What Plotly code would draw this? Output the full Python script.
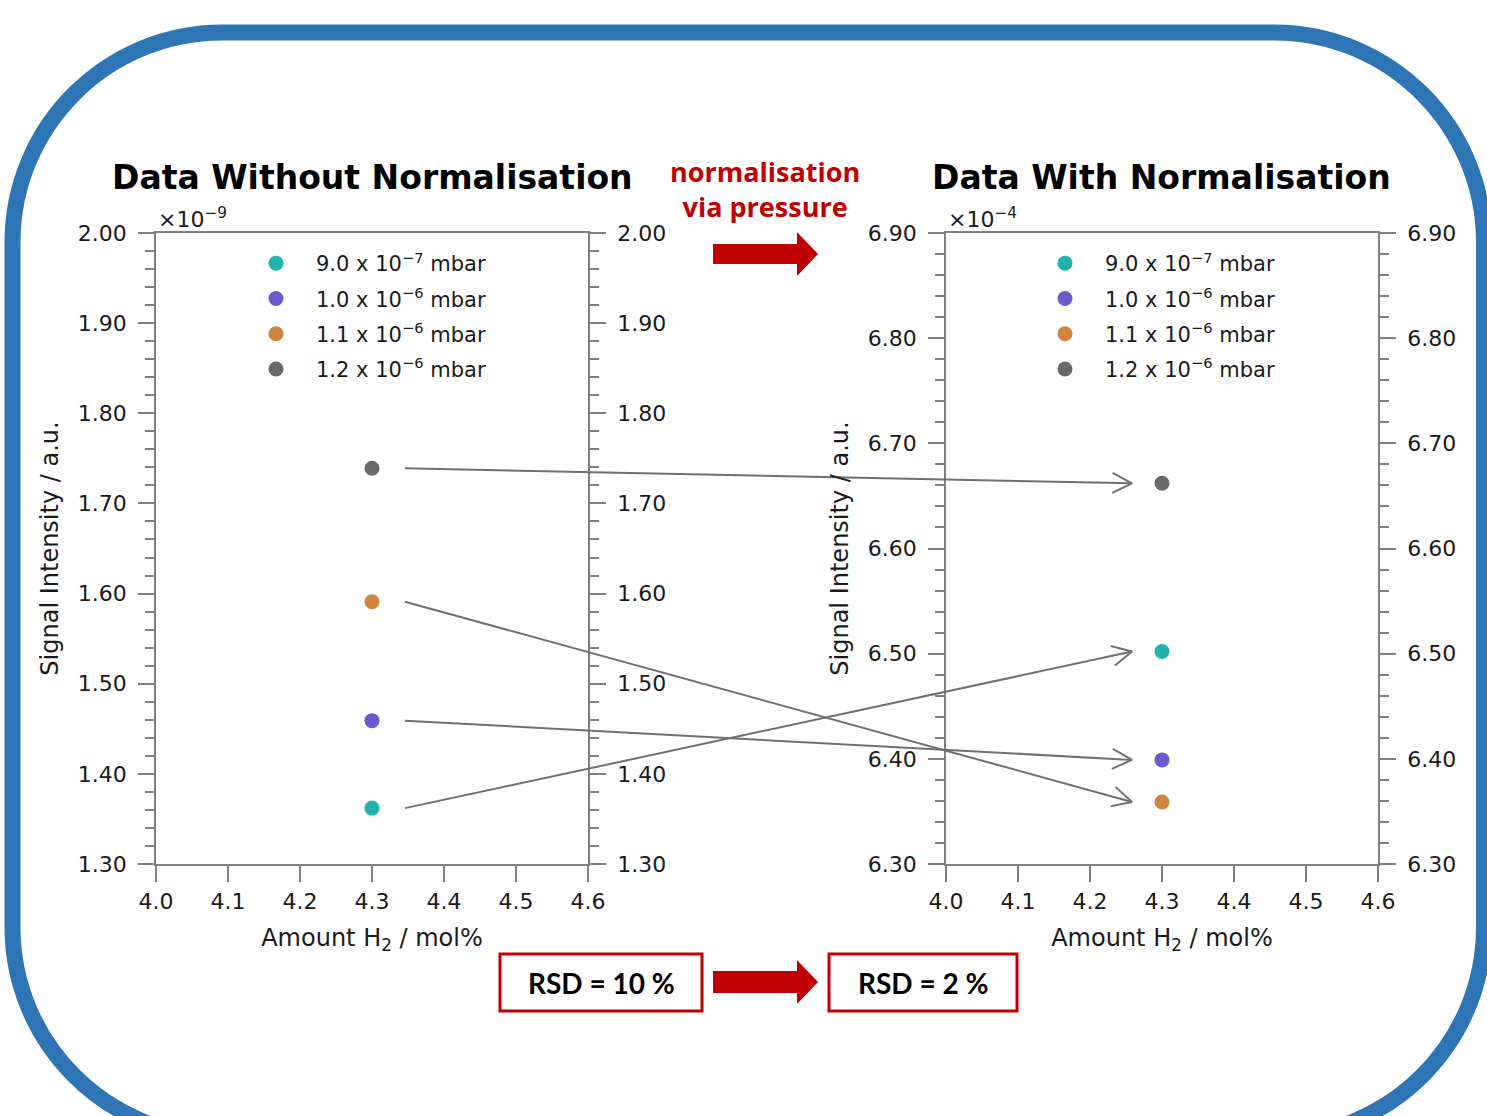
import math
import plotly.graph_objects as go

W, H = 1487, 1116

# ---------------- data ----------------
pressure_labels = [
    "9.0 x 10<sup>\u22127</sup> mbar",
    "1.0 x 10<sup>\u22126</sup> mbar",
    "1.1 x 10<sup>\u22126</sup> mbar",
    "1.2 x 10<sup>\u22126</sup> mbar",
]
amount_h2 = [4.3, 4.3, 4.3, 4.3]
signal_raw = [1.362, 1.459, 1.591, 1.739]      # x 1e-9 a.u.
signal_norm = [6.502, 6.399, 6.359, 6.662]     # x 1e-4 a.u.
colors = ["#20B2AA", "#6A5ACD", "#CD853F", "#696969"]
x_ticks = [4.0, 4.1, 4.2, 4.3, 4.4, 4.5, 4.6]
raw_ticks = [1.30, 1.40, 1.50, 1.60, 1.70, 1.80, 1.90, 2.00]
norm_ticks = [6.30, 6.40, 6.50, 6.60, 6.70, 6.80, 6.90]
rsd_before = "RSD = 10 %"
rsd_after = "RSD = 2 %"

# ---------------- layout geometry ----------------
X_RANGE = [4.0, 4.6]
RAW_RANGE = [1.30, 2.00]
NORM_RANGE = [6.30, 6.90]
left_dom = [156 / W, 588 / W]
right_dom = [946 / W, 1378 / W]
y_dom = [1 - 864 / H, 1 - 233 / H]

AX_COL = "#808080"
TXT = "#1a1a1a"
FONT = "DejaVu Sans"


def to_px(v, rng, dom, axis):
    f = dom[0] + (v - rng[0]) / (rng[1] - rng[0]) * (dom[1] - dom[0])
    return f * W if axis == "x" else (1 - f) * H


fig = go.Figure()

for i, lab in enumerate(pressure_labels):
    fig.add_trace(go.Scatter(
        x=[amount_h2[i]], y=[signal_raw[i]], mode="markers", name=lab,
        marker=dict(color=colors[i], size=15, line=dict(width=0)),
        xaxis="x", yaxis="y", legend="legend", legendgroup=f"L{i}"))
for i, lab in enumerate(pressure_labels):
    fig.add_trace(go.Scatter(
        x=[amount_h2[i]], y=[signal_norm[i]], mode="markers", name=lab,
        marker=dict(color=colors[i], size=15, line=dict(width=0)),
        xaxis="x2", yaxis="y2", legend="legend2", legendgroup=f"R{i}"))

# invisible helpers so the right-hand mirrored axes are drawn
fig.add_trace(go.Scatter(x=amount_h2, y=signal_raw, mode="markers", marker=dict(opacity=0),
                         showlegend=False, hoverinfo="skip", xaxis="x", yaxis="y3"))
fig.add_trace(go.Scatter(x=amount_h2, y=signal_norm, mode="markers", marker=dict(opacity=0),
                         showlegend=False, hoverinfo="skip", xaxis="x2", yaxis="y4"))

# connecting arrows (from left-plot point to right-plot point)
for i in range(len(signal_raw)):
    sx = to_px(amount_h2[i], X_RANGE, left_dom, "x") + 33
    sy = to_px(signal_raw[i], RAW_RANGE, y_dom, "y")
    tx = to_px(amount_h2[i], X_RANGE, right_dom, "x") - 30
    ty = to_px(signal_norm[i], NORM_RANGE, y_dom, "y")
    dx, dy = tx - sx, ty - sy
    L = math.hypot(dx, dy)
    ux, uy = dx / L, dy / L
    nx, ny = -uy, ux
    hl, ang = 22, math.radians(27)
    h1 = (tx - hl * (ux * math.cos(ang) + nx * math.sin(ang)), ty - hl * (uy * math.cos(ang) + ny * math.sin(ang)))
    h2 = (tx - hl * (ux * math.cos(ang) - nx * math.sin(ang)), ty - hl * (uy * math.cos(ang) - ny * math.sin(ang)))
    fig.add_trace(go.Scatter(
        x=[sx, tx, None, h1[0], tx, h2[0]], y=[sy, ty, None, h1[1], ty, h2[1]],
        mode="lines", line=dict(color="#707070", width=2), showlegend=False,
        hoverinfo="skip", xaxis="x5", yaxis="y5", cliponaxis=False))

common_x = dict(range=X_RANGE, tickvals=x_ticks, ticktext=[f"{t:.1f}" for t in x_ticks],
                ticks="outside", ticklen=16, tickwidth=1.5, tickcolor=AX_COL,
                showline=True, linecolor=AX_COL, linewidth=1.5, mirror=True,
                showgrid=False, zeroline=False, ticklabelstandoff=1, automargin=False,
                tickfont=dict(family=FONT, size=22, color=TXT),
                title=dict(text="Amount H<sub>2</sub> / mol%", standoff=16,
                           font=dict(family=FONT, size=24, color=TXT)))


def yax(rng, ticks, side, anchor, overlay=None, title=None):
    d = dict(range=rng, tickvals=ticks, ticktext=[f"{t:.2f}" for t in ticks],
             ticks="outside", ticklen=16, tickwidth=1.5, tickcolor=AX_COL,
             minor=dict(dtick=0.02, tick0=rng[0], ticks="outside", ticklen=9,
                        tickwidth=1.5, tickcolor=AX_COL, showgrid=False),
             showline=True, linecolor=AX_COL, linewidth=1.5,
             showgrid=False, zeroline=False, ticklabelstandoff=7, automargin=False,
             tickfont=dict(family=FONT, size=22, color=TXT),
             side=side, anchor=anchor, domain=y_dom)
    if overlay:
        d["overlaying"] = overlay
    if title:
        d["title"] = dict(text=title, standoff=12, font=dict(family=FONT, size=24, color=TXT))
    return d


layout_kwargs = dict(
    width=W, height=H, margin=dict(l=0, r=0, t=0, b=0, autoexpand=False),
    paper_bgcolor="white", plot_bgcolor="rgba(0,0,0,0)",
    xaxis=dict(domain=left_dom, anchor="y", **common_x),
    xaxis2=dict(domain=right_dom, anchor="y2", **common_x),
    yaxis=yax(RAW_RANGE, raw_ticks, "left", "x", title="Signal Intensity / a.u."),
    yaxis3=yax(RAW_RANGE, raw_ticks, "right", "x", overlay="y"),
    yaxis2=yax(NORM_RANGE, norm_ticks, "left", "x2", title="Signal Intensity / a.u."),
    yaxis4=yax(NORM_RANGE, norm_ticks, "right", "x2", overlay="y2"),
    xaxis5=dict(domain=[0, 1], range=[0, W], visible=False, fixedrange=True, anchor="y5", automargin=False),
    yaxis5=dict(domain=[0, 1], range=[H, 0], visible=False, fixedrange=True, anchor="x5", automargin=False),
    legend=dict(x=236 / W, y=1 - 243 / H, xanchor="left", yanchor="top",
                font=dict(family=FONT, size=21, color=TXT), itemwidth=70,
                tracegroupgap=5, bgcolor="rgba(0,0,0,0)"),
    legend2=dict(x=1025 / W, y=1 - 243 / H, xanchor="left", yanchor="top",
                 font=dict(family=FONT, size=21, color=TXT), itemwidth=70,
                 tracegroupgap=5, bgcolor="rgba(0,0,0,0)"),
    showlegend=True,
)
fig.update_layout(**layout_kwargs)

# ---------------- decorations (pixel coordinates on overlay axes) ----------------
Lb, Tb, Rb, Bb, r = 12.5, 32.5, 1484, 1137, 210
k = 0.5523 * r
border = (f"M {Lb + r},{Tb} L {Rb - r},{Tb} C {Rb - r + k},{Tb} {Rb},{Tb + r - k} {Rb},{Tb + r} "
          f"L {Rb},{Bb - r} C {Rb},{Bb - r + k} {Rb - r + k},{Bb} {Rb - r},{Bb} "
          f"L {Lb + r},{Bb} C {Lb + r - k},{Bb} {Lb},{Bb - r + k} {Lb},{Bb - r} "
          f"L {Lb},{Tb + r} C {Lb},{Tb + r - k} {Lb + r - k},{Tb} {Lb + r},{Tb} Z")
shapes = [dict(type="path", path=border, xref="x5", yref="y5",
               line=dict(color="#2E75B6", width=16), fillcolor="rgba(0,0,0,0)", layer="above")]


def block_arrow(x0, x1, xh, yc, hs, hh):
    return (f"M {x0},{yc - hs} L {xh},{yc - hs} L {xh},{yc - hh} L {x1},{yc} "
            f"L {xh},{yc + hh} L {xh},{yc + hs} L {x0},{yc + hs} Z")


RED = "#C00000"
shapes.append(dict(type="path", path=block_arrow(713, 818, 797, 254, 10, 22), xref="x5", yref="y5",
                   fillcolor=RED, line=dict(width=0)))
shapes.append(dict(type="path", path=block_arrow(713, 818, 797, 982, 11, 22), xref="x5", yref="y5",
                   fillcolor=RED, line=dict(width=0)))
shapes.append(dict(type="rect", x0=500, x1=702, y0=954, y1=1011, xref="x5", yref="y5",
                   line=dict(color=RED, width=3)))
shapes.append(dict(type="rect", x0=829, x1=1017, y0=954, y1=1011, xref="x5", yref="y5",
                   line=dict(color=RED, width=3)))
fig.update_layout(shapes=shapes)

ann = []
ann.append(dict(text="<b>Data Without Normalisation</b>", x=372, y=177, xref="x5", yref="y5",
                showarrow=False, font=dict(family=FONT, size=33, color="black")))
ann.append(dict(text="<b>Data With Normalisation</b>", x=1161, y=177, xref="x5", yref="y5",
                showarrow=False, font=dict(family=FONT, size=33, color="black")))
ann.append(dict(text="<b>normalisation<br>via pressure</b>", x=765, y=189, xref="x5", yref="y5",
                showarrow=False, font=dict(family="Open Sans", size=27, color=RED)))
ann.append(dict(text="\u00d710<sup>\u22129</sup>", x=156, y=234, xref="x5", yref="y5",
                xanchor="left", yanchor="bottom", showarrow=False,
                font=dict(family=FONT, size=22, color=TXT)))
ann.append(dict(text="\u00d710<sup>\u22124</sup>", x=946, y=234, xref="x5", yref="y5",
                xanchor="left", yanchor="bottom", showarrow=False,
                font=dict(family=FONT, size=22, color=TXT)))
ann.append(dict(text=f"<b>{rsd_before}</b>", x=601, y=983, xref="x5", yref="y5",
                showarrow=False, font=dict(family="Lato", size=28, color="black")))
ann.append(dict(text=f"<b>{rsd_after}</b>", x=923, y=983, xref="x5", yref="y5",
                showarrow=False, font=dict(family="Lato", size=28, color="black")))
fig.update_layout(annotations=ann)

fig.write_html("out.html", config={"displayModeBar": False},
               post_script="document.body.style.margin='0';document.body.style.overflow='hidden';")
